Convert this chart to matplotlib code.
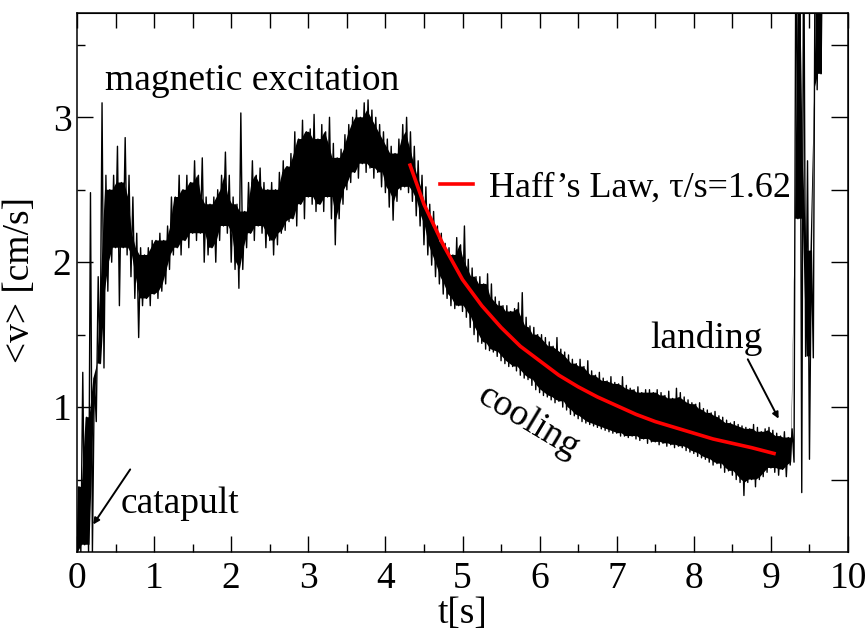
import matplotlib

matplotlib.use("Agg")
import matplotlib.pyplot as plt
import numpy as np

plt.rcParams["font.family"] = ["Liberation Serif", "DejaVu Serif"]

bin_dt = 0.05
v_lo = [
    0.00, 0.00, 0.05, 0.00, 0.00, 0.90, 1.30, 1.27, 1.80, 2.00,  # 0.00-0.45
    2.10, 1.70, 2.10, 2.05, 1.90, 1.75, 1.48, 1.70, 1.75, 1.70,  # 0.50-0.95
    1.78, 1.75, 1.80, 1.85, 1.95, 2.05, 2.10, 2.05, 2.15, 2.10,  # 1.00-1.45
    2.20, 2.15, 2.20, 2.00, 2.05, 2.10, 2.00, 2.15, 2.25, 2.20,  # 1.50-1.95
    2.00, 1.95, 1.82, 1.95, 2.10, 2.20, 2.15, 2.25, 2.20, 2.10,  # 2.00-2.45
    2.15, 2.05, 2.12, 2.20, 2.22, 2.28, 2.30, 2.25, 2.40, 2.30,  # 2.50-2.95
    2.45, 2.40, 2.35, 2.40, 2.35, 2.45, 2.30, 2.12, 2.30, 2.40,  # 3.00-3.45
    2.50, 2.55, 2.62, 2.58, 2.68, 2.62, 2.65, 2.58, 2.62, 2.52,  # 3.50-3.95
    2.48, 2.38, 2.29, 2.42, 2.50, 2.52, 2.48, 2.42, 2.32, 2.25,  # 4.00-4.45
    2.12, 2.05, 1.98, 1.90, 1.85, 1.78, 1.75, 1.70, 1.68, 1.70,  # 4.50-4.95
    1.66, 1.62, 1.55, 1.50, 1.45, 1.44, 1.40, 1.39, 1.38, 1.35,  # 5.00-5.45
    1.32, 1.30, 1.28, 1.28, 1.25, 1.22, 1.20, 1.19, 1.15, 1.12,  # 5.50-5.95
    1.10, 1.08, 1.07, 1.05, 1.03, 1.04, 1.00, 0.98, 0.95, 0.94,  # 6.00-6.45
    0.92, 0.90, 0.89, 0.88, 0.87, 0.86, 0.85, 0.84, 0.83, 0.82,  # 6.50-6.95
    0.82, 0.80, 0.80, 0.79, 0.80, 0.78, 0.77, 0.78, 0.75, 0.76,  # 7.00-7.45
    0.76, 0.74, 0.75, 0.73, 0.74, 0.72, 0.73, 0.72, 0.70, 0.69,  # 7.50-7.95
    0.68, 0.66, 0.65, 0.64, 0.62, 0.60, 0.61, 0.58, 0.55, 0.56,  # 8.00-8.45
    0.53, 0.50, 0.48, 0.39, 0.48, 0.50, 0.45, 0.50, 0.52, 0.55,  # 8.50-8.95
    0.58, 0.55, 0.53, 0.57, 0.52, 0.60, 0.62, 2.30, 0.41, 1.35,  # 9.00-9.45
    0.64, 1.34, 3.19, 3.30,                                      # 9.50-9.65
]
v_hi = [
    0.45, 1.24, 0.93, 2.48, 1.20, 1.90, 3.10, 2.60, 2.50, 2.60,
    2.80, 2.55, 2.86, 2.60, 2.45, 2.20, 2.10, 2.05, 2.10, 2.15,
    2.15, 2.20, 2.15, 2.25, 2.45, 2.45, 2.60, 2.50, 2.60, 2.55,
    2.70, 2.60, 2.72, 2.45, 2.40, 2.45, 2.50, 2.60, 2.76, 2.60,
    2.45, 2.40, 3.03, 2.35, 2.55, 2.70, 2.60, 2.65, 2.55, 2.50,
    2.55, 2.50, 2.62, 2.70, 2.66, 2.75, 2.90, 2.85, 2.98, 2.90,
    2.92, 3.02, 2.85, 2.95, 2.90, 3.00, 2.82, 2.72, 2.78, 2.88,
    2.95, 3.00, 3.05, 3.00, 3.10, 3.12, 3.05, 3.00, 2.95, 2.90,
    2.85, 2.80, 2.75, 2.85, 2.95, 3.00, 2.90, 2.80, 2.70, 2.60,
    2.52, 2.40, 2.35, 2.25, 2.20, 2.13, 2.10, 2.05, 2.17, 2.12,
    2.25, 2.02, 1.96, 1.90, 1.90, 1.85, 1.92, 1.85, 1.76, 1.73,
    1.70, 1.70, 1.66, 1.68, 1.72, 1.79, 1.62, 1.56, 1.55, 1.50,
    1.50, 1.48, 1.45, 1.42, 1.48, 1.40, 1.38, 1.36, 1.33, 1.30,
    1.33, 1.28, 1.32, 1.25, 1.22, 1.24, 1.20, 1.18, 1.21, 1.17,
    1.16, 1.21, 1.15, 1.13, 1.12, 1.14, 1.10, 1.12, 1.12, 1.10,
    1.12, 1.10, 1.08, 1.11, 1.06, 1.13, 1.10, 1.07, 1.05, 1.03,
    1.02, 1.03, 0.99, 0.98, 0.96, 0.97, 0.94, 0.93, 0.91, 0.89,
    0.90, 0.88, 0.87, 0.86, 0.85, 0.88, 0.86, 0.83, 0.85, 0.86,
    0.84, 0.82, 0.80, 0.83, 0.79, 0.85, 4.50, 4.50, 4.50, 2.70,
    2.08, 4.50, 4.50, 4.50,
]

# Haff's law fit (red)
t_haff = [4.32, 4.50, 4.75, 5.00, 5.25, 5.50, 5.75, 6.00, 6.25, 6.50,
          6.75, 7.00, 7.25, 7.50, 7.75, 8.00, 8.25, 8.50, 8.75, 9.04]
v_haff = [2.67, 2.40, 2.12, 1.88, 1.70, 1.55, 1.42, 1.32, 1.22, 1.14,
          1.07, 1.01, 0.95, 0.90, 0.86, 0.82, 0.78, 0.75, 0.72, 0.68]
haff_label = "Haff\u2019s Law, \u03c4/s=1.62"

x_major = np.arange(0, 11, 1)
x_minor = np.arange(0.5, 10, 1)
y_major = [1, 2, 3]
y_minor = [0.5, 1.5, 2.5, 3.5]

FS = 27

# min/max per bin as a zigzag trace
lo = np.asarray(v_lo)
hi = np.asarray(v_hi)
t0 = np.arange(len(lo)) * bin_dt
t_trace = np.column_stack([t0, t0 + bin_dt / 2]).ravel()
v_trace = np.column_stack([lo, hi]).ravel()

# dense core of the band: neighbours agree (drops single spikes)
lo_p = np.pad(lo, 1, mode="edge")
hi_p = np.pad(hi, 1, mode="edge")
core_lo = np.maximum.reduce([lo_p[:-2], lo_p[1:-1], lo_p[2:]])
core_hi = np.minimum.reduce([hi_p[:-2], hi_p[1:-1], hi_p[2:]])
core_hi = np.maximum(core_hi, core_lo)

fig = plt.figure(figsize=(8.67, 6.3), dpi=100)
ax = fig.add_axes([0.0888, 0.1238, 0.8893, 0.8556])

ax.fill_between(t0 + bin_dt / 4, core_lo, core_hi, color="black", lw=0)
ax.plot(t_trace, v_trace, color="black", lw=1.0)
ax.plot(t_haff, v_haff, color="red", lw=2.6, label=haff_label)

ax.set_xlim(0, 10)
ax.set_ylim(0, 3.72)
ax.set_xticks(x_major)
ax.set_xticks(x_minor, minor=True)
ax.set_yticks(y_major)
ax.set_yticks(y_minor, minor=True)
ax.tick_params(axis="both", which="both", direction="in", width=1.0, labelsize=FS)
ax.tick_params(axis="both", which="major", length=11.5)
ax.tick_params(axis="both", which="minor", length=6)
ax.tick_params(axis="x", pad=7)
ax.tick_params(axis="y", pad=4)
for s in ax.spines.values():
    s.set_linewidth(1.1)

# opposite sides: all ticks the same length, no labels
top = ax.secondary_xaxis("top")
top.set_xticks(x_major)
top.set_xticks(x_minor, minor=True)
top.tick_params(which="both", direction="in", length=11, width=1.0, labeltop=False)
right = ax.secondary_yaxis("right")
right.set_yticks(y_major)
right.set_yticks(y_minor, minor=True)
right.tick_params(which="both", direction="in", length=12, width=1.0, labelright=False)

ax.set_xlabel("t[s]", fontsize=FS)
ax.xaxis.set_label_coords(0.4994, -0.083)
ax.set_ylabel("<v> [cm/s]", fontsize=FS)
ax.yaxis.set_label_coords(-0.052, 0.505)

ax.text(0.36, 3.19, "magnetic excitation", fontsize=FS, va="baseline")
ax.text(0.56, 0.27, "catapult", fontsize=FS, va="baseline")
ax.text(7.44, 1.41, "landing", fontsize=FS, va="baseline")
ax.text(5.86, 0.90, "cooling", fontsize=FS, ha="center", va="center",
        rotation=-31, rotation_mode="anchor")

arrow = dict(arrowstyle="-|>", lw=1.4, color="black", mutation_scale=9,
             shrinkA=0, shrinkB=0)
ax.annotate("", xy=(0.21, 0.19), xytext=(0.69, 0.57), arrowprops=arrow)
ax.annotate("", xy=(9.10, 0.92), xytext=(8.70, 1.33), arrowprops=arrow)

ax.legend(loc="center left", bbox_to_anchor=(0.471, 0.675), frameon=False,
          fontsize=26, handlelength=0.9, handletextpad=0.45,
          borderpad=0, borderaxespad=0)

fig.savefig("out.png", dpi=100)
